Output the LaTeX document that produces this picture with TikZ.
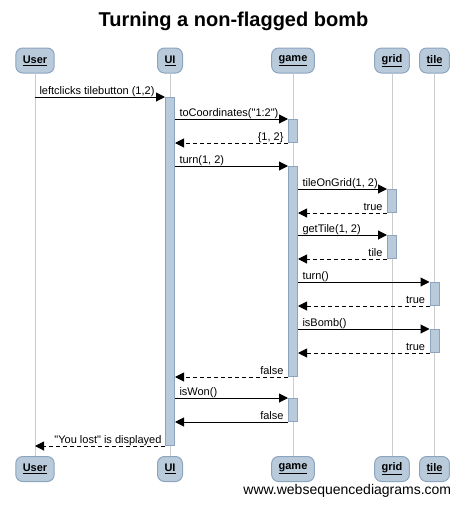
\documentclass[tikz,border=0pt]{standalone}
\usepackage{fontspec}
\setmainfont{Liberation Sans}[Ligatures=TeXOff]
\usetikzlibrary{arrows.meta}
\definecolor{boxfill}{HTML}{B9CBDA}
\definecolor{boxline}{HTML}{8DA4C0}
\definecolor{lifeline}{HTML}{CCCCCC}

\begin{document}
\begin{tikzpicture}[x=1pt,y=-1pt,line width=1pt,font=\fontsize{11}{13}\selectfont,
  part/.style={draw=boxline,fill=boxfill,rounded corners=7pt,minimum height=25pt,inner xsep=7pt,font=\fontsize{11}{13}\selectfont\bfseries},
  act/.style={draw=boxline,fill=boxfill,minimum width=9pt,inner sep=0pt,anchor=north},
  msg/.style={-{Triangle[length=9pt,width=9pt]}},
  ret/.style={msg,dash pattern=on 4pt off 3pt},
  fwd/.style={pos=0,anchor=base west,xshift=4pt,yshift=3pt,inner sep=0pt},
  bwd/.style={pos=0,anchor=base east,xshift=-4pt,yshift=3pt,inner sep=0pt}]
\useasboundingbox (0,0) rectangle (465,506);
\node[anchor=base,font=\fontsize{20}{24}\selectfont\bfseries] (title) at (233.5,27) {Turning a non-flagged bomb};
% participants, top and bottom
\node[part] (usr) at (35,60.5) {\underline{User}};\node[part] (usrb) at (35,469) {\underline{User}};
\node[part] (ui) at (170,60.5) {\underline{UI}};\node[part] (uib) at (170,469) {\underline{UI}};
\node[part] (game) at (293,60.5) {\underline{game}};\node[part] (gameb) at (293,469) {\underline{game}};
\node[part] (grid) at (392,60.5) {\underline{grid}};\node[part] (gridb) at (392,469) {\underline{grid}};
\node[part] (tile) at (434.5,60.5) {\underline{tile}};\node[part] (tileb) at (434.5,469) {\underline{tile}};
\foreach \p in {usr,ui,game,grid,tile} \draw[lifeline] (\p) -- (\p b);
% activations
\node[act,minimum height=348pt] (uia) at (170,97) {};
\node[act,minimum height=23pt] (g1) at (293,119) {};
\node[act,minimum height=210pt] (g2) at (293,166) {};
\node[act,minimum height=23pt] (g3) at (293,398) {};
\node[act,minimum height=23pt] (r1) at (392,189) {};
\node[act,minimum height=23pt] (r2) at (392,235) {};
\node[act,minimum height=23pt] (t1) at (434.5,282) {};
\node[act,minimum height=23pt] (t2) at (434.5,329) {};
% messages
\draw[msg] (usr |- uia.north) -- node[fwd] {leftclicks tilebutton (1,2)} (uia.north west);
\draw[msg] (uia.east |- g1.north) -- node[fwd] {toCoordinates("1:2")} (g1.north west);
\draw[ret] (g1.south west) -- node[bwd] {\{1, 2\}} (uia.east |- g1.south);
\draw[msg] (uia.east |- g2.north) -- node[fwd] {turn(1, 2)} (g2.north west);
\draw[msg] (g2.east |- r1.north) -- node[fwd] {tileOnGrid(1, 2)} (r1.north west);
\draw[ret] (r1.south west) -- node[bwd] {true} (g2.east |- r1.south);
\draw[msg] (g2.east |- r2.north) -- node[fwd] {getTile(1, 2)} (r2.north west);
\draw[ret] (r2.south west) -- node[bwd] {tile} (g2.east |- r2.south);
\draw[msg] (g2.east |- t1.north) -- node[fwd] {turn()} (t1.north west);
\draw[ret] (t1.south west) -- node[bwd] {true} (g2.east |- t1.south);
\draw[msg] (g2.east |- t2.north) -- node[fwd] {isBomb()} (t2.north west);
\draw[ret] (t2.south west) -- node[bwd] {true} (g2.east |- t2.south);
\draw[ret] (g2.south west) -- node[bwd] {false} (uia.east |- g2.south);
\draw[msg] (uia.east |- g3.north) -- node[fwd] {isWon()} (g3.north west);
\draw[msg] (g3.south west) -- node[bwd] {false} (uia.east |- g3.south);
\draw[ret] (uia.south west) -- node[bwd,xshift=1pt] {"You lost" is displayed} (usr |- uia.south);
\node[anchor=base east,font=\fontsize{14}{17}\selectfont] (site) at (455,494) {www.websequencediagrams.com};
\end{tikzpicture}
\end{document}
